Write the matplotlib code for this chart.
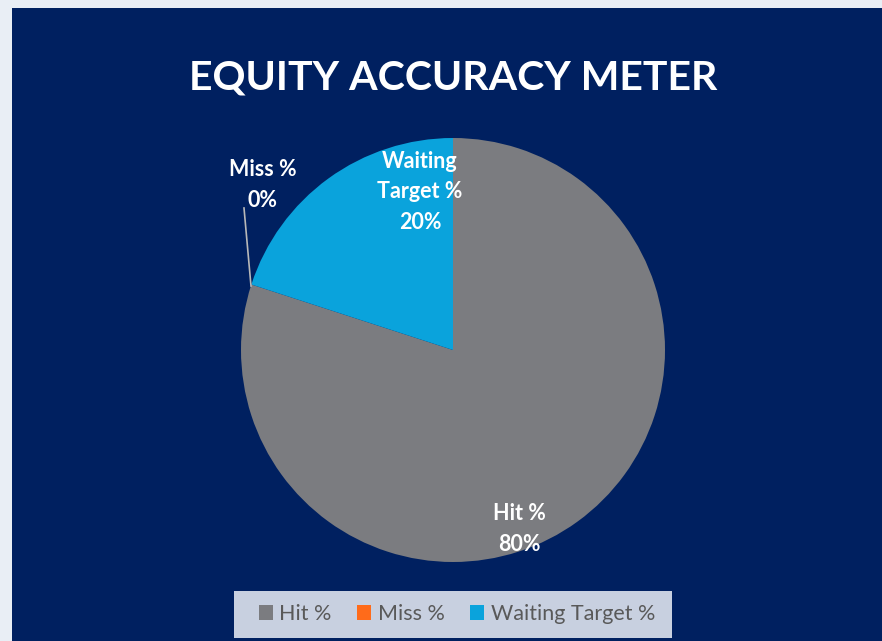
import matplotlib.pyplot as plt
from matplotlib.patches import Rectangle

labels = ["Hit %", "Miss %", "Waiting Target %"]
values = [80, 0, 20]
colors = ["#7b7c80", "#ff6b1a", "#0aa3dc"]

navy = "#002060"
plt.rcParams["font.family"] = ["Lato", "DejaVu Sans"]

fig = plt.figure(figsize=(8.82, 6.41), dpi=100)
fig.patch.set_facecolor("#e9eef5")
fig.add_artist(Rectangle((12 / 882, 0), 1, 1 - 8 / 641, transform=fig.transFigure,
                         facecolor=navy, edgecolor="none", zorder=0))

fig.text(453 / 882, 1 - 78 / 641, "EQUITY ACCURACY METER", color="white",
         fontsize=29.5, fontweight="bold", ha="center", va="center")

# pie: centre (453, 350), radius 212 px
r = 212
ax = fig.add_axes([(453 - r) / 882, 1 - (350 + r) / 641, 2 * r / 882, 2 * r / 641])
ax.set_facecolor("none")
wedges, _ = ax.pie(values, colors=colors, startangle=90, counterclock=False,
                   wedgeprops=dict(linewidth=0))
ax.set_xlim(-1, 1)
ax.set_ylim(-1, 1)
ax.set_aspect("auto")
ax.axis("off")

def px(x, y):
    return ((x - 453) / r, (350 - y) / r)

lab_kw = dict(color="white", fontsize=15.5, fontweight="bold", ha="center",
              va="center", linespacing=1.55)
ax.text(*px(519, 529), "Hit %\n80%", **lab_kw)
ax.text(*px(420, 192), "Waiting\nTarget %\n20%", **lab_kw)
ax.text(*px(263, 185), "Miss %\n0%", **lab_kw)
# leader line for the zero slice
x0, y0 = px(251, 286)
x1, y1 = px(244, 208)
ax.plot([x0, x1], [y0, y1], color="#b8b8b8", linewidth=1.2)

# legend background box
fig.add_artist(Rectangle((234 / 882, 1 - 638 / 641), 438 / 882, 47 / 641,
                         transform=fig.transFigure, facecolor="#c8d0e0",
                         edgecolor="none", zorder=1))
leg = fig.legend(wedges, labels, loc="center", bbox_to_anchor=(457 / 882, 1 - 614 / 641),
                 ncol=3, frameon=False, fontsize=15.5, handlelength=0.65, handleheight=0.65,
                 handletextpad=0.3, columnspacing=1.2, labelcolor="#595959")
leg.set_zorder(2)

fig.savefig("out.png", dpi=100, facecolor=fig.get_facecolor())
